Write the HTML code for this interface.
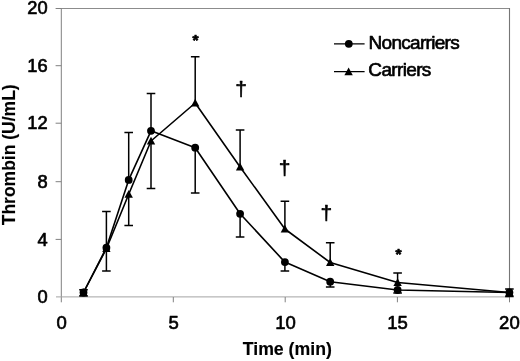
<!DOCTYPE html>
<html><head><meta charset="utf-8"><title>Thrombin generation</title>
<style>html,body{margin:0;padding:0;background:#fff}svg{display:block}text{font-family:"Liberation Sans",Arial,sans-serif;fill:#000;stroke:#000;stroke-width:.65px;stroke-linejoin:round}text.b{font-weight:bold;stroke-width:.15px}text.d{stroke-width:.6px}text.a{font-weight:bold;stroke-width:.7px}</style></head>
<body>
<svg width="520" height="361" viewBox="0 0 520 361">
<rect width="520" height="361" fill="#fff"/>
<g fill="none" stroke-width="1">
<path d="M61.3 8.5H509.5" stroke="#8c8c8c"/>
<path d="M509.5 8V297" stroke="#767676" stroke-width="1.1"/>
<path d="M61.3 8V302.3" stroke="#808080"/>
<path d="M56 296.9H509.5" stroke="#a4a4a4"/>
<path d="M55.6 8.5H61.3M55.6 65.7H61.3M55.6 123.2H61.3M55.6 181.7H61.3M55.6 239.4H61.3" stroke="#808080"/>
<path d="M173.3 297V302.3M285.2 297V302.3M397.4 297V302.3M509.5 297V302.3" stroke="#808080"/>
</g>
<path d="M83.5 289.8V292.5M83.5 292.5V295.9M79.2 289.8H87.8M79.2 295.9H87.8M106.4 211.6V247.7M106.4 248.7V271.1M102.1 211.6H110.7M102.1 271.1H110.7M128.7 132.6V179.9M128.7 194.3V225.6M124.4 132.6H133.0M124.4 225.6H133.0M151.0 93.5V130.8M151.0 141.0V188.4M146.7 93.5H155.3M146.7 188.4H155.3M195.2 56.7V103.0M195.2 147.7V193.0M190.9 56.7H199.5M190.9 193.0H199.5M240.1 130.0V167.0M240.1 213.8V237.0M235.8 130.0H244.4M235.8 237.0H244.4M284.9 201.2V229.0M284.9 262.1V270.9M280.6 201.2H289.2M280.6 270.9H289.2M330.2 242.8V262.5M330.2 281.7V287.0M325.9 242.8H334.5M325.9 287.0H334.5M397.6 272.9V282.5M397.6 290.0V293.0M393.3 272.9H401.9M393.3 293.0H401.9M509.4 289.0V292.5M509.4 292.5V296.5M505.1 289.0H513.7M505.1 296.5H513.7" fill="none" stroke="#000" stroke-width="1.5"/>
<polyline fill="none" stroke="#000" stroke-width="1.6" stroke-linejoin="round" points="83.5,292.5 106.4,247.7 128.7,179.9 151.0,130.8 195.2,147.7 240.1,213.8 284.9,262.1 330.2,281.7 397.6,290.0 509.4,292.5"/>
<polyline fill="none" stroke="#000" stroke-width="1.6" stroke-linejoin="round" points="83.5,292.5 106.4,248.7 128.7,194.3 151.0,141.0 195.2,103.0 240.1,167.0 284.9,229.0 330.2,262.5 397.6,282.5 509.4,292.5"/>
<circle cx="83.5" cy="292.5" r="3.9"/>
<circle cx="106.4" cy="247.7" r="3.9"/>
<circle cx="128.7" cy="179.9" r="3.9"/>
<circle cx="151.0" cy="130.8" r="3.9"/>
<circle cx="195.2" cy="147.7" r="3.9"/>
<circle cx="240.1" cy="213.8" r="3.9"/>
<circle cx="284.9" cy="262.1" r="3.9"/>
<circle cx="330.2" cy="281.7" r="3.9"/>
<circle cx="397.6" cy="290.0" r="3.9"/>
<circle cx="509.4" cy="292.5" r="3.9"/>
<path d="M83.5 288.3L87.7 295.9H79.3Z"/>
<path d="M106.4 244.5L110.6 252.1H102.2Z"/>
<path d="M128.7 190.1L132.9 197.7H124.5Z"/>
<path d="M151.0 136.8L155.2 144.4H146.8Z"/>
<path d="M195.2 98.8L199.4 106.4H191.0Z"/>
<path d="M240.1 162.8L244.3 170.4H235.9Z"/>
<path d="M284.9 224.8L289.1 232.4H280.7Z"/>
<path d="M330.2 258.3L334.4 265.9H326.0Z"/>
<path d="M397.6 278.3L401.8 285.9H393.4Z"/>
<path d="M509.4 288.3L513.6 295.9H505.2Z"/>
<path d="M334 43.8H364.6M334 71.6H364.6" stroke="#000" stroke-width="1.3"/>
<circle cx="348.8" cy="43.8" r="3.9"/>
<path d="M348.6 67.6L352.8 75.2H344.4Z"/>
<text x="368.5" y="48.9" font-size="19" textLength="91.2" lengthAdjust="spacing">Noncarriers</text>
<text x="368.3" y="75.7" font-size="19" textLength="63.0" lengthAdjust="spacing">Carriers</text>
<text x="47.6" y="303.2" font-size="18.3" text-anchor="end">0</text>
<text x="47.6" y="245.5" font-size="18.3" text-anchor="end">4</text>
<text x="47.6" y="188.0" font-size="18.3" text-anchor="end">8</text>
<text x="47.6" y="128.8" font-size="18.3" text-anchor="end">12</text>
<text x="47.6" y="71.5" font-size="18.3" text-anchor="end">16</text>
<text x="47.6" y="14.4" font-size="18.3" text-anchor="end">20</text>
<text x="61.6" y="329.2" font-size="18.5" text-anchor="middle">0</text>
<text x="173.6" y="329.2" font-size="18.5" text-anchor="middle">5</text>
<text x="285.5" y="329.2" font-size="18.5" text-anchor="middle">10</text>
<text x="397.5" y="329.2" font-size="18.5" text-anchor="middle">15</text>
<text x="509.4" y="329.2" font-size="18.5" text-anchor="middle">20</text>
<text x="287.3" y="355.4" font-size="17.7" class="b" text-anchor="middle">Time (min)</text>
<text transform="translate(14.6 154.8) rotate(-90)" font-size="17.5" class="b" text-anchor="middle">Thrombin (U/mL)</text>
<text x="195.5" y="45.4" font-size="15.5" class="a" text-anchor="middle">*</text>
<text x="398.5" y="258.8" font-size="15.5" class="a" text-anchor="middle">*</text>
<text x="241.2" y="95.7" font-size="21" class="d" text-anchor="middle">†</text>
<text x="284.5" y="174.7" font-size="21" class="d" text-anchor="middle">†</text>
<text x="326.3" y="220.1" font-size="21" class="d" text-anchor="middle">†</text>
</svg>
</body></html>
